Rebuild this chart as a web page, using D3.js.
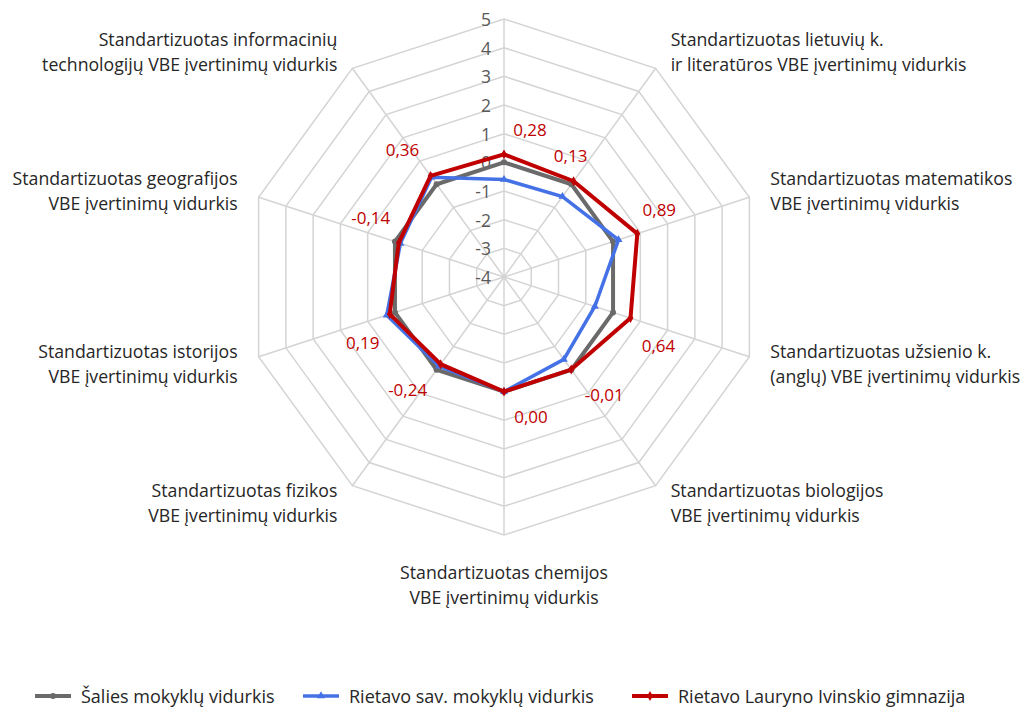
<!DOCTYPE html>
<html>
<head>
<meta charset="utf-8">
<script src="https://cdn.jsdelivr.net/npm/d3@7"></script>
<style>
  html, body { margin: 0; padding: 0; background: #fff; }
  svg { display: block; font-family: "Open Sans", Lato, sans-serif; }
</style>
</head>
<body>
<svg id="chart" width="1033" height="710"></svg>
<script>
// --- chart data ---
// top axis label is cut off in the source image, so it stays empty
var categories = [
  [],
  ['Standartizuotas lietuvių k.', 'ir literatūros VBE įvertinimų vidurkis'],
  ['Standartizuotas matematikos', 'VBE įvertinimų vidurkis'],
  ['Standartizuotas užsienio k.', '(anglų) VBE įvertinimų vidurkis'],
  ['Standartizuotas biologijos', 'VBE įvertinimų vidurkis'],
  ['Standartizuotas chemijos', 'VBE įvertinimų vidurkis'],
  ['Standartizuotas fizikos', 'VBE įvertinimų vidurkis'],
  ['Standartizuotas istorijos', 'VBE įvertinimų vidurkis'],
  ['Standartizuotas geografijos', 'VBE įvertinimų vidurkis'],
  ['Standartizuotas informacinių', 'technologijų VBE įvertinimų vidurkis']
];

var seriesNames = ['Šalies mokyklų vidurkis', 'Rietavo sav. mokyklų vidurkis', 'Rietavo Lauryno Ivinskio gimnazija'];

var salies     = [0, 0, 0, 0, 0, 0, 0, 0, 0, 0];
var rietavoSav = [-0.6, -0.53, 0.2, -0.67, -0.45, 0.0, -0.15, 0.3, -0.2, 0.3];
var gimnazija  = [0.28, 0.13, 0.89, 0.64, -0.01, 0.00, -0.24, 0.19, -0.14, 0.36];

var ticks = [-4, -3, -2, -1, 0, 1, 2, 3, 4, 5];

// --- layout ---
var cx = 504, cy = 277, R = 258;
var colors = ['#6a6a6a', '#4472e6', '#c00000'];
var widths = [4, 3.5, 4];

// data label offsets around the red points
var labelOffsets = [[26, -25], [-3, -26], [22, -24], [28, 27], [33, 25],
                    [27, 25], [-33, 25], [-27, 28], [-28, -25], [-28, -26]];

var svg = d3.select('#chart');
var r = d3.scaleLinear().domain([-4, 5]).range([0, R]);
var n = categories.length;

function angle(i) { return i * 2 * Math.PI / n; }
function px(i, v) { return cx + r(v) * Math.sin(angle(i)); }
function py(i, v) { return cy - r(v) * Math.cos(angle(i)); }

// --- grid rings and spokes ---
var grid = svg.append('g').attr('stroke', '#d4d4d4').attr('stroke-width', 1.5).attr('fill', 'none');

grid.selectAll('polygon')
  .data(ticks.slice(1))
  .enter()
  .append('polygon')
  .attr('points', function(t) {
    return d3.range(n).map(function(i) { return px(i, t) + ',' + py(i, t); }).join(' ');
  });

grid.selectAll('line')
  .data(d3.range(n))
  .enter()
  .append('line')
  .attr('x1', cx).attr('y1', cy)
  .attr('x2', function(i) { return px(i, 5); })
  .attr('y2', function(i) { return py(i, 5); });

// --- tick labels on the top spoke ---
svg.append('g')
  .selectAll('text')
  .data(ticks)
  .enter()
  .append('text')
  .attr('x', cx - 13)
  .attr('y', function(t) { return cy - r(t); })
  .attr('text-anchor', 'end')
  .attr('dominant-baseline', 'central')
  .attr('font-size', 17.5)
  .attr('fill', '#595959')
  .text(function(t) { return t; });

// --- category labels ---
var catG = svg.append('g').attr('font-size', 17.7).attr('fill', '#262626');
categories.forEach(function(lines, i) {
  if (!lines.length) return;
  var a = angle(i);
  var s = Math.sin(a), c = Math.cos(a);
  var vx = px(i, 5), vy = py(i, 5);
  var anchor, x, yCenter;
  if (Math.abs(s) < 0.01) {
    anchor = 'middle';
    x = vx;
    yCenter = c < 0 ? vy + 49 : vy - 49;
  } else {
    anchor = s > 0 ? 'start' : 'end';
    x = vx + (s > 0 ? 1 : -1) * (Math.abs(s) > 0.9 ? 21 : 15);
    yCenter = vy - 21 * c;
  }
  var t = catG.append('text').attr('text-anchor', anchor);
  lines.forEach(function(line, k) {
    t.append('tspan')
      .attr('x', x)
      .attr('y', yCenter + (k - (lines.length - 1) / 2) * 25)
      .attr('dominant-baseline', 'central')
      .text(line);
  });
});

// --- series lines ---
var allSeries = [salies, rietavoSav, gimnazija];
var line = d3.lineRadial()
  .angle(function(d, i) { return angle(i); })
  .radius(function(d) { return r(d); })
  .curve(d3.curveLinearClosed);

var markerSymbols = [d3.symbolCircle, d3.symbolTriangle, d3.symbolDiamond];

allSeries.forEach(function(vals, s) {
  var g = svg.append('g').attr('transform', 'translate(' + cx + ',' + cy + ')');
  g.append('path')
    .datum(vals)
    .attr('d', line)
    .attr('fill', 'none')
    .attr('stroke', colors[s])
    .attr('stroke-width', widths[s])
    .attr('stroke-linejoin', 'miter');
  g.selectAll('path.mk')
    .data(vals)
    .enter()
    .append('path')
    .attr('class', 'mk')
    .attr('d', d3.symbol().type(markerSymbols[s]).size(28))
    .attr('fill', colors[s])
    .attr('transform', function(d, i) {
      return 'translate(' + (px(i, d) - cx) + ',' + (py(i, d) - cy) + ')';
    });
});

// --- data labels for the gymnasium ---
svg.append('g')
  .selectAll('text')
  .data(gimnazija)
  .enter()
  .append('text')
  .attr('x', function(d, i) { return px(i, d) + labelOffsets[i][0]; })
  .attr('y', function(d, i) { return py(i, d) + labelOffsets[i][1]; })
  .attr('text-anchor', 'middle')
  .attr('dominant-baseline', 'central')
  .attr('font-size', 17)
  .attr('fill', '#c00000')
  .text(function(d) { return d.toFixed(2).replace('.', ','); });

// --- legend ---
var legendX = [35, 303, 632];
var legend = svg.append('g');
seriesNames.forEach(function(name, s) {
  var lg = legend.append('g').attr('transform', 'translate(' + legendX[s] + ',696)');
  lg.append('line')
    .attr('x1', 0).attr('x2', 36).attr('y1', 0).attr('y2', 0)
    .attr('stroke', colors[s]).attr('stroke-width', widths[s]);
  lg.append('path')
    .attr('d', d3.symbol().type(markerSymbols[s]).size(28))
    .attr('transform', 'translate(18,0)')
    .attr('fill', colors[s]);
  lg.append('text')
    .attr('x', 46).attr('y', 0)
    .attr('dominant-baseline', 'central')
    .attr('font-size', 18)
    .attr('fill', '#262626')
    .text(name);
});
</script>
</body>
</html>
